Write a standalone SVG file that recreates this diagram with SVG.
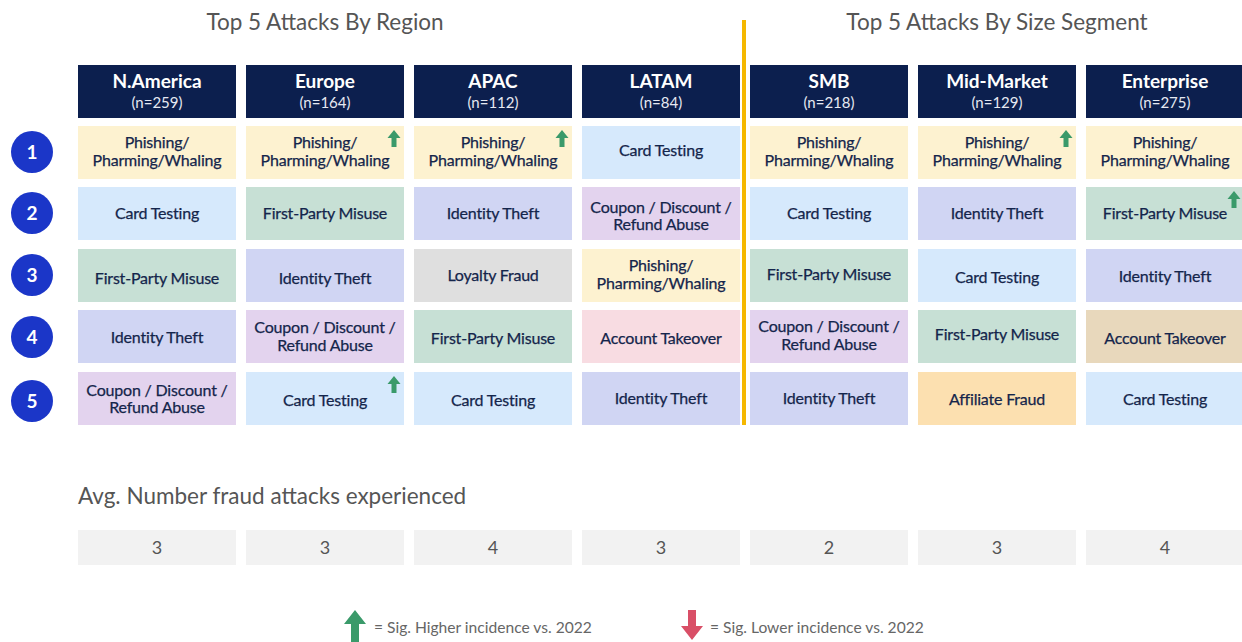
<svg xmlns="http://www.w3.org/2000/svg" width="1242" height="642" viewBox="0 0 1242 642">
<defs>
<style>
.t{font-family:Lato,"Open Sans","Liberation Sans",sans-serif}
.title{font-size:22.5px;fill:#555;}
.hn{font-size:19px;font-weight:bold;fill:#fff;text-anchor:middle}
.hs{font-size:15px;fill:#e6e9f2;text-anchor:middle}
.c{font-size:16px;fill:#14254b;text-anchor:middle;letter-spacing:-0.2px;stroke:#14254b;stroke-width:0.25px}
.num{font-size:19px;font-weight:bold;fill:#fff;text-anchor:middle}
.avg{font-size:18px;fill:#555;text-anchor:middle}
.leg{font-size:15.6px;fill:#666;}
.hdr{fill:#0c1f4e}
.y{fill:#fdf2d0}.b{fill:#d6e9fc}.g{fill:#c7e0d5}.l{fill:#d0d5f3}.p{fill:#e3d3ee}.gr{fill:#dfdfdf}.pk{fill:#f8dce2}.tn{fill:#e8d8bc}.o{fill:#fce0b0}
.ab{fill:#f2f2f2}
</style>
<path id="up" d="M0,0 L6.5,8 L2.5,8 L2.5,17 L-2.5,17 L-2.5,8 L-6.5,8 Z" fill="#3a9a6a"/>
</defs>
<g class="t">
<text class="title" x="325" y="30" text-anchor="middle">Top 5 Attacks By Region</text>
<text class="title" x="997" y="30" text-anchor="middle">Top 5 Attacks By Size Segment</text>
</g>
<rect x="742" y="20" width="4" height="405" fill="#f5b800"/>
<g id="headers" class="t">
<g id="h-na"><rect class="hdr" x="78" y="65" width="158" height="53"/><text class="hn" x="157" y="88">N.America</text><text class="hs" x="157" y="108">(n=259)</text></g>
<g id="h-eu"><rect class="hdr" x="246" y="65" width="158" height="53"/><text class="hn" x="325" y="88">Europe</text><text class="hs" x="325" y="108">(n=164)</text></g>
<g id="h-apac"><rect class="hdr" x="414" y="65" width="158" height="53"/><text class="hn" x="493" y="88">APAC</text><text class="hs" x="493" y="108">(n=112)</text></g>
<g id="h-latam"><rect class="hdr" x="582" y="65" width="158" height="53"/><text class="hn" x="661" y="88">LATAM</text><text class="hs" x="661" y="108">(n=84)</text></g>
<g id="h-smb"><rect class="hdr" x="750" y="65" width="158" height="53"/><text class="hn" x="829" y="88">SMB</text><text class="hs" x="829" y="108">(n=218)</text></g>
<g id="h-mm"><rect class="hdr" x="918" y="65" width="158" height="53"/><text class="hn" x="997" y="88">Mid-Market</text><text class="hs" x="997" y="108">(n=129)</text></g>
<g id="h-ent"><rect class="hdr" x="1086" y="65" width="156" height="53"/><text class="hn" x="1165" y="88">Enterprise</text><text class="hs" x="1165" y="108">(n=275)</text></g>
</g>
<g id="ranks" class="t">
<g id="r1"><circle cx="32" cy="152" r="21" fill="#1b36c8"/><text class="num" x="32" y="159">1</text></g>
<g id="r2"><circle cx="32" cy="213" r="21" fill="#1b36c8"/><text class="num" x="32" y="220">2</text></g>
<g id="r3"><circle cx="32" cy="275" r="21" fill="#1b36c8"/><text class="num" x="32" y="282">3</text></g>
<g id="r4"><circle cx="32" cy="337" r="21" fill="#1b36c8"/><text class="num" x="32" y="344">4</text></g>
<g id="r5"><circle cx="32" cy="401" r="21" fill="#1b36c8"/><text class="num" x="32" y="408">5</text></g>
</g>
<g id="cells" class="t">
<g id="c-na-1"><rect class="y" x="78" y="126" width="158" height="53"/><text class="c" x="157" y="148">Phishing/</text><text class="c" x="157" y="166">Pharming/Whaling</text></g>
<g id="c-eu-1"><rect class="y" x="246" y="126" width="158" height="53"/><text class="c" x="325" y="148">Phishing/</text><text class="c" x="325" y="166">Pharming/Whaling</text><use href="#up" x="394" y="130"/></g>
<g id="c-apac-1"><rect class="y" x="414" y="126" width="158" height="53"/><text class="c" x="493" y="148">Phishing/</text><text class="c" x="493" y="166">Pharming/Whaling</text><use href="#up" x="562" y="130"/></g>
<g id="c-latam-1"><rect class="b" x="582" y="126" width="158" height="53"/><text class="c" x="661" y="156">Card Testing</text></g>
<g id="c-smb-1"><rect class="y" x="750" y="126" width="158" height="53"/><text class="c" x="829" y="148">Phishing/</text><text class="c" x="829" y="166">Pharming/Whaling</text></g>
<g id="c-mm-1"><rect class="y" x="918" y="126" width="158" height="53"/><text class="c" x="997" y="148">Phishing/</text><text class="c" x="997" y="166">Pharming/Whaling</text><use href="#up" x="1066" y="130"/></g>
<g id="c-ent-1"><rect class="y" x="1086" y="126" width="156" height="53"/><text class="c" x="1165" y="148">Phishing/</text><text class="c" x="1165" y="166">Pharming/Whaling</text></g>
<g id="c-na-2"><rect class="b" x="78" y="187" width="158" height="53"/><text class="c" x="157" y="219">Card Testing</text></g>
<g id="c-eu-2"><rect class="g" x="246" y="187" width="158" height="53"/><text class="c" x="325" y="219">First-Party Misuse</text></g>
<g id="c-apac-2"><rect class="l" x="414" y="187" width="158" height="53"/><text class="c" x="493" y="219">Identity Theft</text></g>
<g id="c-latam-2"><rect class="p" x="582" y="187" width="158" height="53"/><text class="c" x="661" y="213">Coupon / Discount /</text><text class="c" x="661" y="230">Refund Abuse</text></g>
<g id="c-smb-2"><rect class="b" x="750" y="187" width="158" height="53"/><text class="c" x="829" y="219">Card Testing</text></g>
<g id="c-mm-2"><rect class="l" x="918" y="187" width="158" height="53"/><text class="c" x="997" y="219">Identity Theft</text></g>
<g id="c-ent-2"><rect class="g" x="1086" y="187" width="156" height="53"/><text class="c" x="1165" y="219">First-Party Misuse</text><use href="#up" x="1234" y="191"/></g>
<g id="c-na-3"><rect class="g" x="78" y="249" width="158" height="53"/><text class="c" x="157" y="284">First-Party Misuse</text></g>
<g id="c-eu-3"><rect class="l" x="246" y="249" width="158" height="53"/><text class="c" x="325" y="284">Identity Theft</text></g>
<g id="c-apac-3"><rect class="gr" x="414" y="249" width="158" height="53"/><text class="c" x="493" y="281">Loyalty Fraud</text></g>
<g id="c-latam-3"><rect class="y" x="582" y="249" width="158" height="53"/><text class="c" x="661" y="271">Phishing/</text><text class="c" x="661" y="289">Pharming/Whaling</text></g>
<g id="c-smb-3"><rect class="g" x="750" y="249" width="158" height="53"/><text class="c" x="829" y="280">First-Party Misuse</text></g>
<g id="c-mm-3"><rect class="b" x="918" y="249" width="158" height="53"/><text class="c" x="997" y="283">Card Testing</text></g>
<g id="c-ent-3"><rect class="l" x="1086" y="249" width="156" height="53"/><text class="c" x="1165" y="282">Identity Theft</text></g>
<g id="c-na-4"><rect class="l" x="78" y="310" width="158" height="53"/><text class="c" x="157" y="343">Identity Theft</text></g>
<g id="c-eu-4"><rect class="p" x="246" y="310" width="158" height="53"/><text class="c" x="325" y="333">Coupon / Discount /</text><text class="c" x="325" y="351">Refund Abuse</text></g>
<g id="c-apac-4"><rect class="g" x="414" y="310" width="158" height="53"/><text class="c" x="493" y="344">First-Party Misuse</text></g>
<g id="c-latam-4"><rect class="pk" x="582" y="310" width="158" height="53"/><text class="c" x="661" y="344">Account Takeover</text></g>
<g id="c-smb-4"><rect class="p" x="750" y="310" width="158" height="53"/><text class="c" x="829" y="332">Coupon / Discount /</text><text class="c" x="829" y="350">Refund Abuse</text></g>
<g id="c-mm-4"><rect class="g" x="918" y="310" width="158" height="53"/><text class="c" x="997" y="340">First-Party Misuse</text></g>
<g id="c-ent-4"><rect class="tn" x="1086" y="310" width="156" height="53"/><text class="c" x="1165" y="344">Account Takeover</text></g>
<g id="c-na-5"><rect class="p" x="78" y="372" width="158" height="53"/><text class="c" x="157" y="396">Coupon / Discount /</text><text class="c" x="157" y="413">Refund Abuse</text></g>
<g id="c-eu-5"><rect class="b" x="246" y="372" width="158" height="53"/><text class="c" x="325" y="406">Card Testing</text><use href="#up" x="394" y="376"/></g>
<g id="c-apac-5"><rect class="b" x="414" y="372" width="158" height="53"/><text class="c" x="493" y="406">Card Testing</text></g>
<g id="c-latam-5"><rect class="l" x="582" y="372" width="158" height="53"/><text class="c" x="661" y="404">Identity Theft</text></g>
<g id="c-smb-5"><rect class="l" x="750" y="372" width="158" height="53"/><text class="c" x="829" y="404">Identity Theft</text></g>
<g id="c-mm-5"><rect class="o" x="918" y="372" width="158" height="53"/><text class="c" x="997" y="405">Affiliate Fraud</text></g>
<g id="c-ent-5"><rect class="b" x="1086" y="372" width="156" height="53"/><text class="c" x="1165" y="405">Card Testing</text></g>
</g>
<g id="avg" class="t">
<text class="title" x="78" y="504">Avg. Number fraud attacks experienced</text>
<g id="a-na"><rect class="ab" x="78" y="530" width="158" height="35"/><text class="avg" x="157" y="554">3</text></g>
<g id="a-eu"><rect class="ab" x="246" y="530" width="158" height="35"/><text class="avg" x="325" y="554">3</text></g>
<g id="a-apac"><rect class="ab" x="414" y="530" width="158" height="35"/><text class="avg" x="493" y="554">4</text></g>
<g id="a-latam"><rect class="ab" x="582" y="530" width="158" height="35"/><text class="avg" x="661" y="554">3</text></g>
<g id="a-smb"><rect class="ab" x="750" y="530" width="158" height="35"/><text class="avg" x="829" y="554">2</text></g>
<g id="a-mm"><rect class="ab" x="918" y="530" width="158" height="35"/><text class="avg" x="997" y="554">3</text></g>
<g id="a-ent"><rect class="ab" x="1086" y="530" width="156" height="35"/><text class="avg" x="1165" y="554">4</text></g>
</g>
<g id="legend" class="t">
<path d="M355,610 L366,624 L359,624 L359,642 L351,642 L351,624 L344,624 Z" fill="#3a9a6a"/>
<text class="leg" x="374" y="633">= Sig. Higher incidence vs. 2022</text>
<path d="M692,640 L703,626 L696,626 L696,610 L688,610 L688,626 L681,626 Z" fill="#d94f67"/>
<text class="leg" x="710" y="633">= Sig. Lower incidence vs. 2022</text>
</g>
</svg>
